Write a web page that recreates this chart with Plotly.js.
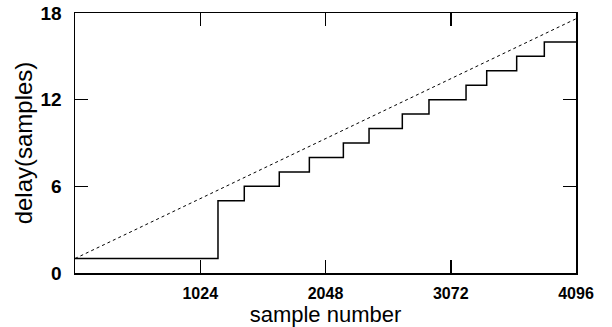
<!DOCTYPE html>
<html>
<head>
<meta charset="utf-8">
<script src="https://cdn.plot.ly/plotly-3.0.1.min.js"></script>
<style>html,body{margin:0;padding:0;background:#fff;}#chart{width:612px;height:327px;}</style>
</head>
<body>
<div id="chart"></div>
<script>
// staircase: sample number where each delay level starts, and the delay level
const stepStarts = [0, 1169, 1384, 1670, 1916, 2194, 2404, 2676, 2894, 3197, 3366, 3611, 3837, 4096];
const stepDelays = [1, 5, 6, 7, 8, 9, 10, 11, 12, 13, 14, 15, 16, 16];
// dotted reference line endpoints
const refX = [0, 4096];
const refY = [1, 17.6];
const xTicks = [1024, 2048, 3072, 4096];
const xTickText = ['1024', '2048', '3072', '4096'];
const yTicks = [0, 6, 12, 18];

const traces = [
  {x: refX, y: refY, mode: 'lines', line: {color: '#000', width: 1, dash: 'dot'}, hoverinfo: 'skip'},
  {x: stepStarts, y: stepDelays, mode: 'lines', line: {color: '#000', width: 1.5, shape: 'hv'}, hoverinfo: 'skip'}
];

const layout = {
  width: 612, height: 327,
  margin: {l: 75, r: 36, t: 13, b: 54},
  paper_bgcolor: '#fff', plot_bgcolor: '#fff',
  showlegend: false,
  font: {family: 'Liberation Sans, Arial, sans-serif', color: '#000'},
  xaxis: {
    range: [0, 4096], tickvals: xTicks, ticktext: xTickText,
    ticks: 'inside', ticklen: 13, tickwidth: 1.5, tickcolor: '#000',
    showline: true, linecolor: '#000', linewidth: 1.5, mirror: 'ticks',
    showgrid: false, zeroline: false,
    tickfont: {size: 16, weight: 'bold'}, ticklabelstandoff: 5,
    title: {text: 'sample number', font: {size: 22}, standoff: 0}
  },
  yaxis: {
    range: [0, 18], tickvals: yTicks,
    ticks: 'inside', ticklen: 13, tickwidth: 1.5, tickcolor: '#000',
    showline: true, linecolor: '#000', linewidth: 1.5, mirror: 'ticks',
    showgrid: false, zeroline: false,
    tickfont: {size: 19, weight: 'bold'}, ticklabelstandoff: 8,
    title: {text: 'delay(samples)', font: {size: 24}, standoff: 1}
  }
};

Plotly.newPlot('chart', traces, layout, {staticPlot: true, displayModeBar: false});
</script>
</body>
</html>
